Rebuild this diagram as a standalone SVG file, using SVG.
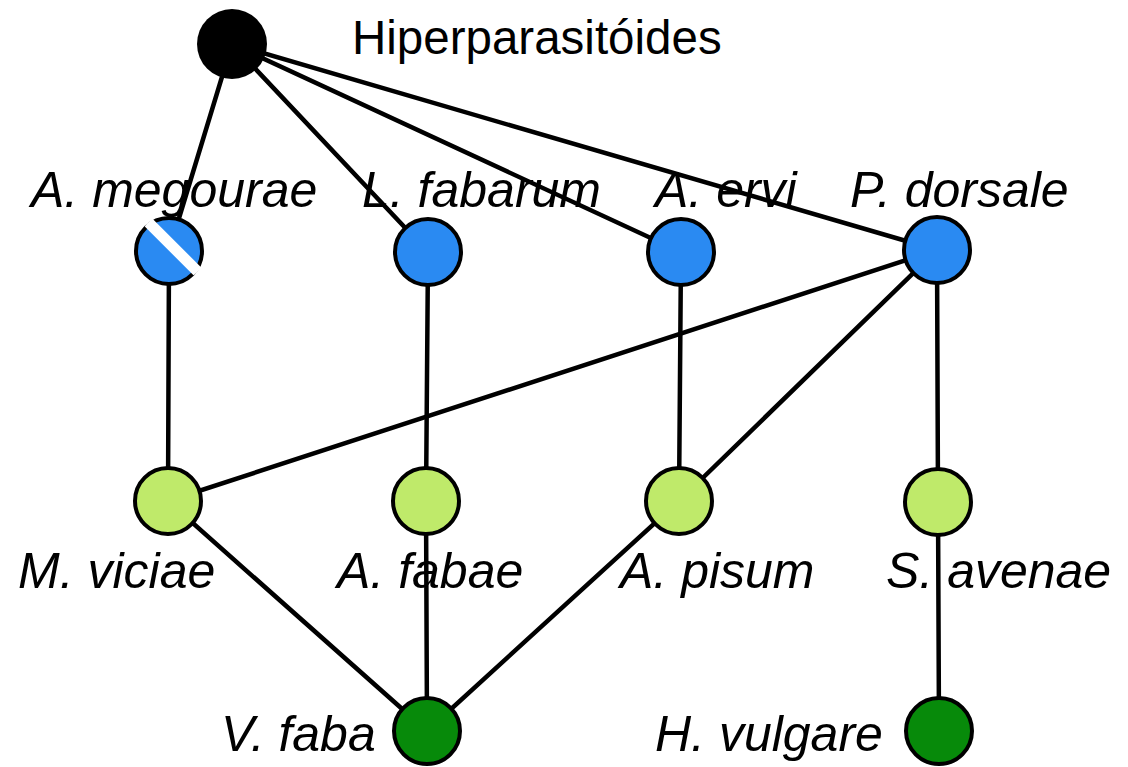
<svg xmlns="http://www.w3.org/2000/svg" width="1128" height="767" viewBox="0 0 1128 767">
  <style>
    .edge { stroke: #000; stroke-width: 4.5; fill: none; stroke-linecap: round; }
    .node { stroke: #000; stroke-width: 4; }
    .para { fill: #2a8af2; }
    .aphid { fill: #bfea6a; }
    .plant { fill: #078a0a; }
    .hyper { fill: #000; }
    .lbl { font-family: "Liberation Sans", Arial, sans-serif; font-size: 50px; font-style: italic; fill: #000; }
    .title { font-family: "Liberation Sans", Arial, sans-serif; font-size: 47.5px; fill: #000; }
  </style>
  <defs>
    <clipPath id="clip-megourae">
      <circle cx="169" cy="251" r="35"/>
    </clipPath>
  </defs>

  <rect width="1128" height="767" fill="#fff"/>

  <!-- labels (lines pass over them) -->
  <g id="labels">
    <text class="title" x="352" y="54">Hiperparasitóides</text>
    <text class="lbl" x="31" y="207">A. megourae</text>
    <text class="lbl" x="362" y="207">L. fabarum</text>
    <text class="lbl" x="655" y="207">A. ervi</text>
    <text class="lbl" x="850" y="207">P. dorsale</text>
    <text class="lbl" x="18" y="588">M. viciae</text>
    <text class="lbl" x="337" y="588">A. fabae</text>
    <text class="lbl" x="620" y="588">A. pisum</text>
    <text class="lbl" x="886" y="588">S. avenae</text>
    <text class="lbl" x="221" y="751">V. faba</text>
    <text class="lbl" x="655" y="751">H. vulgare</text>
  </g>

  <g id="connectors">
    <!-- hyperparasitoids to parasitoids -->
    <line class="edge" x1="232" y1="44" x2="169" y2="251"/>
    <line class="edge" x1="232" y1="44" x2="428" y2="252"/>
    <line class="edge" x1="232" y1="44" x2="681" y2="252"/>
    <line class="edge" x1="232" y1="44" x2="937" y2="250"/>
    <!-- parasitoids to aphids -->
    <line class="edge" x1="169" y1="251" x2="168" y2="501"/>
    <line class="edge" x1="428" y1="252" x2="426" y2="501"/>
    <line class="edge" x1="681" y1="252" x2="679" y2="501"/>
    <line class="edge" x1="937" y1="250" x2="938" y2="502"/>
    <line class="edge" x1="937" y1="250" x2="168" y2="501"/>
    <line class="edge" x1="937" y1="250" x2="679" y2="501"/>
    <!-- aphids to plants -->
    <line class="edge" x1="168" y1="501" x2="427" y2="731"/>
    <line class="edge" x1="426" y1="501" x2="427" y2="731"/>
    <line class="edge" x1="679" y1="501" x2="427" y2="731"/>
    <line class="edge" x1="938" y1="502" x2="939" y2="731"/>
  </g>

  <g id="hiperparasitoides">
    <circle class="hyper" cx="232" cy="44" r="35"/>
  </g>

  <g id="a-megourae">
    <circle class="node para" cx="169" cy="251" r="33"/>
    <line x1="126" y1="206" x2="216" y2="296" stroke="#fff" stroke-width="11" clip-path="url(#clip-megourae)" transform="translate(3,-3)"/>
  </g>
  <g id="l-fabarum"><circle class="node para" cx="428" cy="252" r="33"/></g>
  <g id="a-ervi"><circle class="node para" cx="681" cy="252" r="33"/></g>
  <g id="p-dorsale"><circle class="node para" cx="937" cy="250" r="33"/></g>

  <g id="m-viciae"><circle class="node aphid" cx="168" cy="501" r="33"/></g>
  <g id="a-fabae"><circle class="node aphid" cx="426" cy="501" r="33"/></g>
  <g id="a-pisum"><circle class="node aphid" cx="679" cy="501" r="33"/></g>
  <g id="s-avenae"><circle class="node aphid" cx="938" cy="502" r="33"/></g>

  <g id="v-faba"><circle class="node plant" cx="427" cy="731" r="33"/></g>
  <g id="h-vulgare"><circle class="node plant" cx="939" cy="731" r="33"/></g>
</svg>
